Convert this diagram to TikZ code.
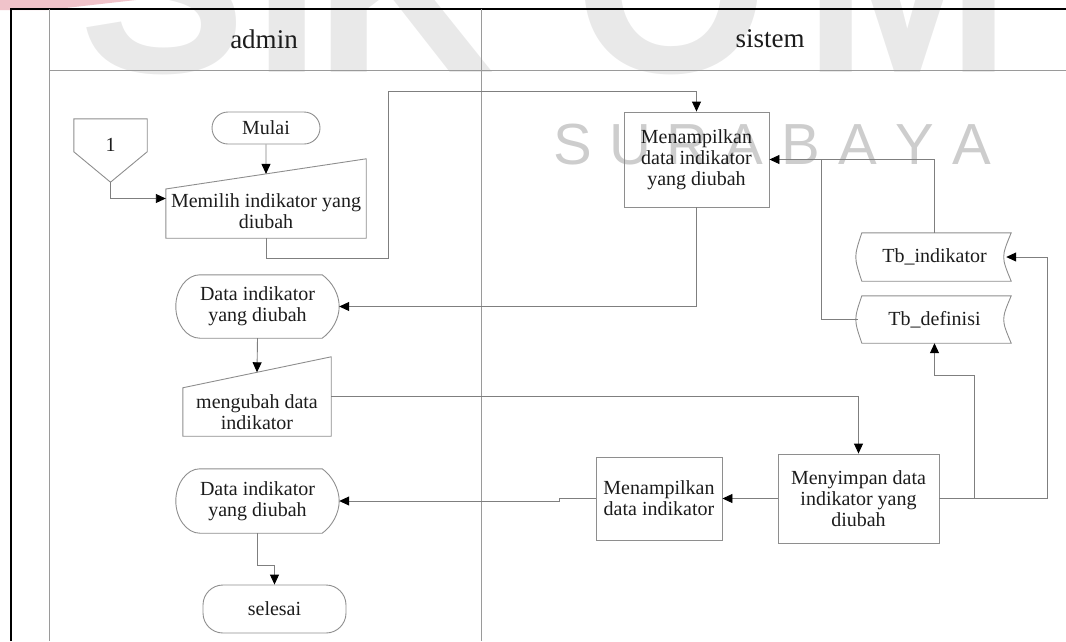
\documentclass[tikz,border=0pt]{standalone}
\usepackage{fontspec}
\setmainfont{Liberation Serif}
\newfontfamily\marksans{Liberation Sans}
\usetikzlibrary{arrows.meta,calc}

\definecolor{ink}{HTML}{1C1C1C}
\definecolor{linegray}{HTML}{7F7F7F}
\definecolor{shapegray}{HTML}{8E8E8E}
\definecolor{lanegray}{HTML}{9A9A9A}
\definecolor{markgray}{HTML}{E9E9E9}
\definecolor{citygray}{HTML}{CDCDCD}
\definecolor{logopink}{HTML}{F0C3CA}

\tikzset{
  framerule/.style={draw=black, line width=2.2pt},
  lanerule/.style={draw=lanegray, line width=0.9pt},
  lbl/.style={font=\fontsize{20}{21}\selectfont, text=ink, align=center, inner sep=0pt},
  outline/.style={draw=shapegray, line width=0.9pt},
  procbox/.style={lbl, rectangle, outline},
  termbox/.style={procbox, rounded corners=#1},
  holder/.style={rectangle, inner sep=0pt},
  flow/.style={draw=linegray, line width=0.9pt, -{Triangle[length=10pt,width=9pt,color=black]}},
  link/.style={draw=linegray, line width=0.9pt},
  lanehead/.style={font=\fontsize{27}{29}\selectfont, text=ink, inner sep=0pt},
  bigmark/.style={font=\marksans\bfseries\fontsize{250}{250}\selectfont, text=markgray, inner sep=0pt},
  citymark/.style={font=\marksans\fontsize{58}{58}\selectfont, text=citygray, inner sep=0pt},
}

% outlines of the flowchart symbols, drawn around holder nodes
\newcommand\manualoutline[2]{%
  \draw[outline] (#1.south west) -- ($(#1.north west)!#2!(#1.south west)$)
    -- (#1.north east) -- (#1.south east) -- cycle;}
\newcommand\displayoutline[1]{%
  \draw[outline] let \p1=(#1.north west), \p2=(#1.south east), \p3=(#1.west) in
    (\x1+24pt,\y1) -- (\x2-17pt,\y1)
    .. controls (\x2-7pt,\y1-7pt) and (\x2,\y3+12pt) .. (\x2,\y3)
    .. controls (\x2,\y3-12pt) and (\x2-7pt,\y2+7pt) .. (\x2-17pt,\y2)
    -- (\x1+24pt,\y2)
    .. controls (\x1+10.7pt,\y2) and (\x1,\y3-17pt) .. (\x1,\y3)
    .. controls (\x1,\y3+17pt) and (\x1+10.7pt,\y1) .. cycle;}
\newcommand\storedoutline[1]{%
  \draw[outline] let \p1=(#1.north west), \p2=(#1.south east), \p3=(#1.west) in
    (\x1+4pt,\y1) -- (\x2,\y1) .. controls (\x2-10pt,\y3) .. (\x2,\y2)
    -- (\x1+4pt,\y2) .. controls (\x1-4pt,\y3) .. cycle;}
\newcommand\offpageoutline[1]{%
  \draw[outline] (#1.north west) -- (#1.north east)
    -- ($(#1.north east)!0.52!(#1.south east)$) -- (#1.south)
    -- ($(#1.north west)!0.52!(#1.south west)$) -- cycle;}

\begin{document}
\begin{tikzpicture}[x=1pt,y=-1pt]
\useasboundingbox (0,0) rectangle (1066,641);

% watermark in the background
\begin{scope}
  \clip (0,0) rectangle (1066,641);
  \fill[logopink] (0,0) -- (136,0) -- (48,10) -- (0,10) -- cycle;
  \foreach \ch/\cx [count=\i] in {S/163,I/287,K/405,O/672,M/908}
    \node[bigmark, anchor=base] (wmbig\i) at (\cx,72) {\ch};
  \foreach \ch [count=\i] in {S,U,R,A,B,A,Y,A}
    \node[citymark, anchor=base] (wmcity\i) at ({516+57*\i},164) {\ch};
\end{scope}

% swimlane frame
\draw[framerule] (11,641) -- (11,9) -- (1066,9);
\draw[lanerule] (49,9) -- (49,641);
\draw[lanerule] (49,70) -- (1066,70);
\draw[lanerule] (481,9) -- (481,641);
\node[lanehead] (hadmin) at (264,39) {admin};
\node[lanehead] (hsistem) at (770,39) {sistem};

% admin lane
\node[holder, minimum width=73, minimum height=63,
      label={[lbl,yshift=5.5pt]center:1}] (conn1) at (110.5,150.5) {};
\offpageoutline{conn1}
\node[termbox=16pt, minimum width=108, minimum height=32] (mulai) at (266,128) {Mulai};
\node[holder, minimum width=200, minimum height=79,
      label={[lbl,yshift=-12.5pt]center:{Memilih indikator yang\\diubah}}] (pilih) at (266,198.5) {};
\manualoutline{pilih}{0.38}
\node[holder, minimum width=163, minimum height=63,
      label={[lbl]center:{Data indikator\\yang diubah}}] (data1) at (257.5,306.5) {};
\displayoutline{data1}
\node[holder, minimum width=148, minimum height=79,
      label={[lbl,yshift=-16pt]center:{mengubah data\\indikator}}] (ubah) at (257,396.5) {};
\manualoutline{ubah}{0.39}
\node[holder, minimum width=163, minimum height=64,
      label={[lbl]center:{Data indikator\\yang diubah}}] (data2) at (257.5,501) {};
\displayoutline{data2}
\node[termbox=20pt, minimum width=143, minimum height=48] (selesai) at (274.5,609) {selesai};

% sistem lane
\node[procbox, minimum width=145, minimum height=95] (tampil1) at (696.5,159.5)
  {Menampilkan\\data indikator\\yang diubah};
\node[holder, minimum width=153, minimum height=48,
      label={[lbl]center:Tb\_indikator}] (tbind) at (934.5,257) {};
\storedoutline{tbind}
\node[holder, minimum width=153, minimum height=47,
      label={[lbl]center:Tb\_definisi}] (tbdef) at (934.5,319.5) {};
\storedoutline{tbdef}
\node[procbox, minimum width=161, minimum height=89] (simpan) at (858.5,498.5)
  {Menyimpan data\\indikator yang\\diubah};
\node[procbox, minimum width=126, minimum height=83] (tampil2) at (659,498.5)
  {Menampilkan\\data indikator};

% entry points on the slanted tops of the manual inputs
\coordinate (pilihtop) at ($($(pilih.north west)!0.38!(pilih.south west)$)!0.5!(pilih.north east)$);
\coordinate (ubahtop) at ($($(ubah.north west)!0.39!(ubah.south west)$)!0.5!(ubah.north east)$);

% connectors
\draw[flow] (conn1.south) |- (pilih.west);
\draw[flow] (mulai.south) -- (pilihtop);
\draw[flow] (pilih.south) -- ++(0,20) -- ++(122,0) |- ($(tampil1.north)+(0,-20)$) -- (tampil1.north);
\draw[flow] (tampil1.south) |- (data1.east);
\draw[flow] (data1.south) -- (ubahtop);
\draw[flow] (ubah.east) -| (simpan.north);
\draw[flow] (simpan.west) -- (tampil2.east);
\draw[flow] (tampil2.west) -- ++(-36,0) |- (data2.east);
\draw[flow] (data2.south) -- ++(0,32) -| (selesai.north);
\draw[flow] (simpan.east) -- ++(35,0) |- ($(tbdef.south)+(0,32)$) -- (tbdef.south);
\draw[flow] (simpan.east) -- ++(108,0) |- ($(tbind.east)+(-5,0)$);
\draw[flow] (tbind.north) |- (tampil1.east);
\draw[link] (tbdef.west) -- ++(-36,0) |- ($(tampil1.east)+(53,0)$);
\end{tikzpicture}
\end{document}
